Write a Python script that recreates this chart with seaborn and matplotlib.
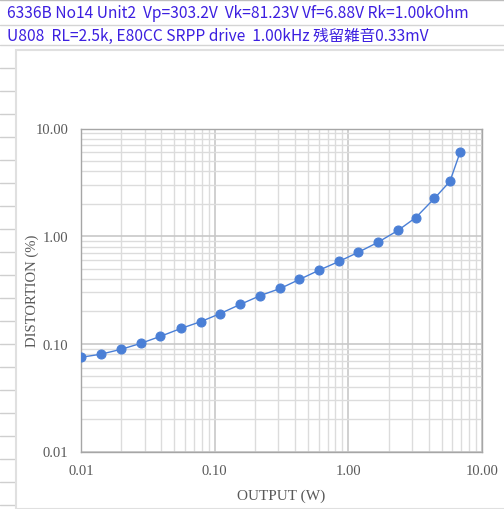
import matplotlib
matplotlib.use("Agg")
import matplotlib.pyplot as plt
from matplotlib.lines import Line2D
from matplotlib.patches import Rectangle
from matplotlib.ticker import FixedLocator, LogLocator, NullFormatter, FormatStrFormatter
import seaborn as sns
import pandas as pd

# 読み取った値
output_w = [0.010, 0.014, 0.020, 0.028, 0.039, 0.056, 0.079, 0.11, 0.155, 0.22,
            0.31, 0.43, 0.60, 0.85, 1.18, 1.66, 2.35, 3.2, 4.4, 5.75, 6.85]
distortion_pct = [0.075, 0.080, 0.089, 0.101, 0.117, 0.139, 0.161, 0.191, 0.232, 0.281,
                  0.327, 0.396, 0.481, 0.582, 0.706, 0.875, 1.13, 1.49, 2.24, 3.22, 5.99]
major_ticks = [0.01, 0.1, 1, 10]

title1 = "6336B No14 Unit2  Vp=303.2V  Vk=81.23V Vf=6.88V Rk=1.00kOhm"
title2 = "U808  RL=2.5k, E80CC SRPP drive  1.00kHz 残留雑音0.33mV"

df = pd.DataFrame({"output": output_w, "distortion": distortion_pct})

sns.set_theme(style="white")
W, H = 504, 510
fig = plt.figure(figsize=(W / 100, H / 100), dpi=100)
fig.patch.set_facecolor("white")

# 背景（スプレッドシート風）
def hline(y, x0=0, x1=W, color="#d4d4d4", lw=1.0):
    fig.add_artist(Line2D([x0 / W, x1 / W], [1 - y / H, 1 - y / H], color=color, lw=lw, zorder=-2))

hline(0.5, color="#bdbdbd")
hline(26, color="#d4d4d4")
hline(46, color="#d4d4d4")
for y in range(69, H, 23):
    hline(y, 0, 16, color="#cfcfcf")
fig.add_artist(Rectangle((16 / W, 0), 1, 1 - 51 / H, transform=fig.transFigure,
                         facecolor="white", edgecolor="#e0e0e0", lw=1.5, zorder=-1))

hdr_font = ["Noto Sans CJK JP", "DejaVu Sans"]
fig.text(7 / W, 1 - 13 / H, title1, family=hdr_font, fontsize=11.2, color="#3c1fe0", va="center")
fig.text(7 / W, 1 - 36 / H, title2, family=hdr_font, fontsize=11.2, color="#3c1fe0", va="center")

ax = fig.add_axes([81 / W, 1 - 452.5 / H, 401 / W, 323 / H])
ax.set_facecolor("white")
sns.lineplot(data=df, x="output", y="distortion", ax=ax, sort=False, estimator=None,
             color="#4a7fd6", lw=1.0, marker="o", markersize=6.5,
             markeredgecolor="#4a7fd6", zorder=3)

ax.set_xscale("log")
ax.set_yscale("log")
ax.set_xlim(0.01, 10)
ax.set_ylim(0.01, 10)

for axis in (ax.xaxis, ax.yaxis):
    axis.set_major_locator(FixedLocator(major_ticks))
    axis.set_major_formatter(FormatStrFormatter("%.2f"))
    axis.set_minor_locator(LogLocator(base=10, subs=range(2, 10)))
    axis.set_minor_formatter(NullFormatter())

ax.grid(which="major", color="#c8c8c8", lw=1.2)
ax.grid(which="minor", color="#dcdcdc", lw=1.0)
ax.set_axisbelow(True)
ax.tick_params(which="both", length=0)
ax.tick_params(axis="x", pad=9)
ax.tick_params(axis="y", pad=9)

serif = "Liberation Serif"
for lab in ax.get_xticklabels() + ax.get_yticklabels():
    lab.set_family(serif)
    lab.set_fontsize(10.5)
    lab.set_color("#595959")

ax.set_xlabel("OUTPUT (W)", family=serif, fontsize=11, color="#595959", labelpad=8)
ax.set_ylabel("DISTORTION (%)", family=serif, fontsize=10.5, color="#595959", labelpad=-2.5)

for side in ["left", "bottom", "top", "right"]:
    ax.spines[side].set_visible(True)
    ax.spines[side].set_color("#a6a6a6")
    ax.spines[side].set_linewidth(1.0)

fig.savefig("out.png", dpi=100)
